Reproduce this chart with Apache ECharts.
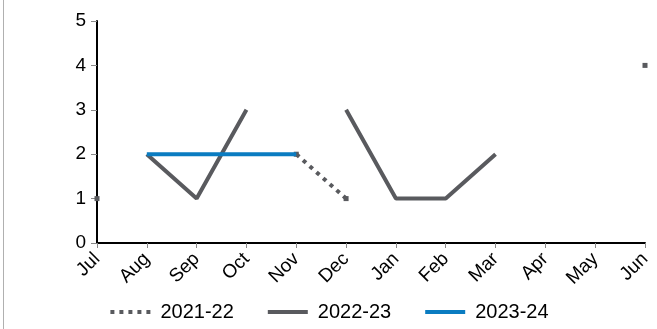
<!DOCTYPE html>
<html>
<head>
<meta charset="utf-8">
<script src="https://cdn.jsdelivr.net/npm/echarts@6/dist/echarts.min.js"></script>
<style>
    html, body { margin: 0; padding: 0; background: #fff; }
    #chart { width: 657px; height: 329px; }
    #frame { position: absolute; left: 3px; top: 0; width: 1px; height: 329px; background: #b0b0b0; }
</style>
</head>
<body>
<div id="chart"></div>
<div id="frame"></div>
<script>
// 月份
var months = ['Jul', 'Aug', 'Sep', 'Oct', 'Nov', 'Dec', 'Jan', 'Feb', 'Mar', 'Apr', 'May', 'Jun'];
// 各年度数据
var y2122 = [1, null, null, null, 2, 1, null, null, null, null, null, 4];
var y2223 = [null, 2, 1, 3, null, 3, 1, 1, 2, null, null, null];
var y2324 = [null, 2, 2, 2, 2, null, null, null, null, null, null, null];
var yTicks = [0, 1, 2, 3, 4, 5];

var grey = '#595a5e';
var blue = '#0a7cc1';
var font = 'Liberation Sans, Arial, sans-serif';

var dom = echarts.init(document.getElementById('chart'));
var option = {
    backgroundColor: '#fff',
    animation: false,
    grid: {
        left: 97,
        right: 12,
        top: 21,
        bottom: 86
    },
    legend: {
        top: 297,
        left: 'center',
        itemWidth: 40,
        itemHeight: 12,
        itemGap: 32,
        textStyle: {
            color: '#000',
            fontSize: 20,
            fontFamily: font,
            padding: [0, 0, 0, 5]
        },
        itemStyle: { opacity: 0 },
        lineStyle: { width: 4 },
        data: ['2021-22', '2022-23', '2023-24']
    },
    xAxis: {
        type: 'category',
        boundaryGap: false,
        data: months,
        axisLine: {
            lineStyle: { color: '#000', width: 2 }
        },
        axisTick: {
            show: true,
            length: 5,
            lineStyle: { color: '#888' }
        },
        axisLabel: {
            rotate: 45,
            color: '#000',
            fontSize: 19,
            fontFamily: font,
            margin: 13
        },
        splitLine: { show: false }
    },
    yAxis: {
        type: 'value',
        min: yTicks[0],
        max: yTicks[yTicks.length - 1],
        interval: 1,
        axisLine: {
            show: true,
            lineStyle: { color: '#000', width: 2 }
        },
        axisTick: {
            show: true,
            length: 6,
            lineStyle: { color: '#888' }
        },
        axisLabel: {
            color: '#000',
            fontSize: 19,
            fontFamily: font,
            margin: 11
        },
        splitLine: { show: false }
    },
    series: [{
        name: '2021-22',
        type: 'line',
        data: y2122,
        symbol: 'rect',
        symbolSize: 5,
        showSymbol: true,
        showAllSymbol: true,
        color: grey,
        itemStyle: { color: grey },
        lineStyle: {
            color: grey,
            width: 4,
            type: [4, 5]
        },
        z: 2
    }, {
        name: '2022-23',
        type: 'line',
        data: y2223,
        symbol: 'none',
        color: grey,
        lineStyle: {
            color: grey,
            width: 4
        },
        z: 3
    }, {
        name: '2023-24',
        type: 'line',
        data: y2324,
        symbol: 'none',
        color: blue,
        lineStyle: {
            color: blue,
            width: 4
        },
        z: 4
    }]
};
dom.setOption(option);
</script>
</body>
</html>
